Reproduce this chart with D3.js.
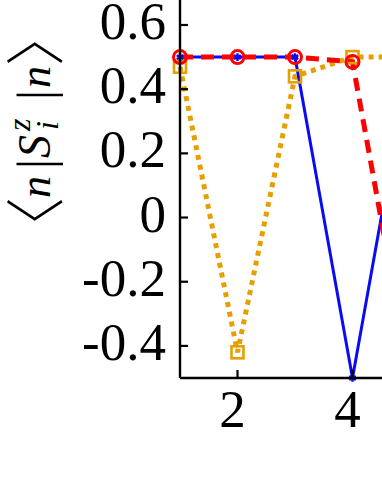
<!DOCTYPE html>
<html>
<head>
<meta charset="utf-8">
<script src="https://cdn.jsdelivr.net/npm/d3@7"></script>
<style>
  body { margin: 0; background: #fff; }
  svg { display: block; }
  text { font-family: "Liberation Serif", "Times New Roman", serif; fill: #000; }
</style>
</head>
<body>
<svg id="chart" width="382" height="494"></svg>
<script>
// site index
const sites = [1, 2, 3, 4, 5];
// <n|S_i^z|n> for the three states
const blueVals = [0.5, 0.5, 0.5, -0.5, 0.5];
const redVals = [0.5, 0.5, 0.5, 0.485, -0.5];
const orangeVals = [0.47, -0.42, 0.44, 0.5, 0.5];
const yTicks = [-0.4, -0.2, 0, 0.2, 0.4, 0.6];
const xTicks = [2, 4];

const svg = d3.select('#chart');
const W = 382, H = 494;

const x = d3.scaleLinear().domain([1, 5]).range([180, 410]);
const y = d3.scaleLinear().domain([-0.5, 0.6]).range([378, 25]);

const series = [
    { vals: orangeVals, color: '#e69f00', width: 5, dash: '5,5' },
    { vals: blueVals, color: '#0a0af5', width: 3, dash: null },
    { vals: redVals, color: '#ff0000', width: 5, dash: '13,8' }
];

const line = d3.line()
    .x((d, i) => x(sites[i]))
    .y(d => y(d));

series.forEach(s => {
    svg.append('path')
        .datum(s.vals)
        .attr('d', line)
        .attr('fill', 'none')
        .attr('stroke', s.color)
        .attr('stroke-width', s.width)
        .attr('stroke-dasharray', s.dash);
});

// orange open squares
svg.append('g').selectAll('rect')
    .data(orangeVals)
    .enter()
    .append('rect')
    .attr('x', (d, i) => x(sites[i]) - 6)
    .attr('y', d => y(d) - 6)
    .attr('width', 12)
    .attr('height', 12)
    .attr('fill', 'none')
    .attr('stroke', '#e69f00')
    .attr('stroke-width', 2.6);

// red open circles
svg.append('g').selectAll('circle')
    .data(redVals)
    .enter()
    .append('circle')
    .attr('cx', (d, i) => x(sites[i]))
    .attr('cy', d => y(d))
    .attr('r', 6.5)
    .attr('fill', 'none')
    .attr('stroke', '#ff0000')
    .attr('stroke-width', 3);

// blue star markers
svg.append('g').selectAll('path')
    .data(blueVals)
    .enter()
    .append('path')
    .attr('transform', (d, i) => `translate(${x(sites[i])},${y(d)})`)
    .attr('d', d3.symbol(d3.symbolAsterisk, 40))
    .attr('fill', 'none')
    .attr('stroke', '#0a0af5')
    .attr('stroke-width', 2.4);

// axes
const axisColor = '#000';
svg.append('line')
    .attr('x1', x(1)).attr('x2', x(1))
    .attr('y1', 0).attr('y2', y(-0.5))
    .attr('stroke', axisColor).attr('stroke-width', 2.4);
svg.append('line')
    .attr('x1', x(1)).attr('x2', W)
    .attr('y1', y(-0.5)).attr('y2', y(-0.5))
    .attr('stroke', axisColor).attr('stroke-width', 2.4);

svg.append('g').selectAll('line')
    .data(yTicks)
    .enter()
    .append('line')
    .attr('x1', x(1)).attr('x2', x(1) + 8)
    .attr('y1', d => y(d)).attr('y2', d => y(d))
    .attr('stroke', axisColor).attr('stroke-width', 2.2);

svg.append('g').selectAll('text')
    .data(yTicks)
    .enter()
    .append('text')
    .attr('x', 166)
    .attr('y', d => y(d) + 14)
    .attr('text-anchor', 'end')
    .style('font-size', '53px')
    .text(d => d === 0 ? '0' : d.toFixed(1));

svg.append('g').selectAll('line')
    .data(xTicks)
    .enter()
    .append('line')
    .attr('x1', d => x(d)).attr('x2', d => x(d))
    .attr('y1', y(-0.5)).attr('y2', y(-0.5) - 8)
    .attr('stroke', axisColor).attr('stroke-width', 2.2);

svg.append('g').selectAll('text')
    .data(xTicks)
    .enter()
    .append('text')
    .attr('x', d => x(d) - 5)
    .attr('y', 427)
    .attr('text-anchor', 'middle')
    .style('font-size', '53px')
    .text(d => d);

// y label: <n|S_i^z|n>, rotated
const lab = svg.append('g').attr('transform', 'translate(50,227) rotate(-90)');
const serif = '"Liberation Serif", serif';
const cjk = '"Noto Sans CJK JP", "Noto Sans CJK SC", sans-serif';
const pieces = [
    { t: '\u3008', x: -30, y: 8, size: 60, italic: false, font: cjk },
    { t: 'n', x: 29, y: 0, size: 44, italic: true, font: serif },
    { t: '|', x: 58, y: 2, size: 50, italic: false, font: serif },
    { t: 'S', x: 69, y: 0, size: 46, italic: true, font: serif },
    { t: 'z', x: 96, y: -20, size: 32, italic: true, font: serif },
    { t: 'i', x: 97, y: 8, size: 32, italic: true, font: serif },
    { t: '|', x: 127, y: 2, size: 50, italic: false, font: serif },
    { t: 'n', x: 139, y: 0, size: 44, italic: true, font: serif },
    { t: '\u3009', x: 161, y: 8, size: 60, italic: false, font: cjk }
];
lab.selectAll('text')
    .data(pieces)
    .enter()
    .append('text')
    .attr('x', d => d.x)
    .attr('y', d => d.y)
    .style('font-size', d => d.size + 'px')
    .style('font-style', d => d.italic ? 'italic' : 'normal')
    .style('font-family', d => d.font)
    .style('font-weight', d => d.font === cjk ? '300' : 'normal')
    .text(d => d.t);
</script>
</body>
</html>
